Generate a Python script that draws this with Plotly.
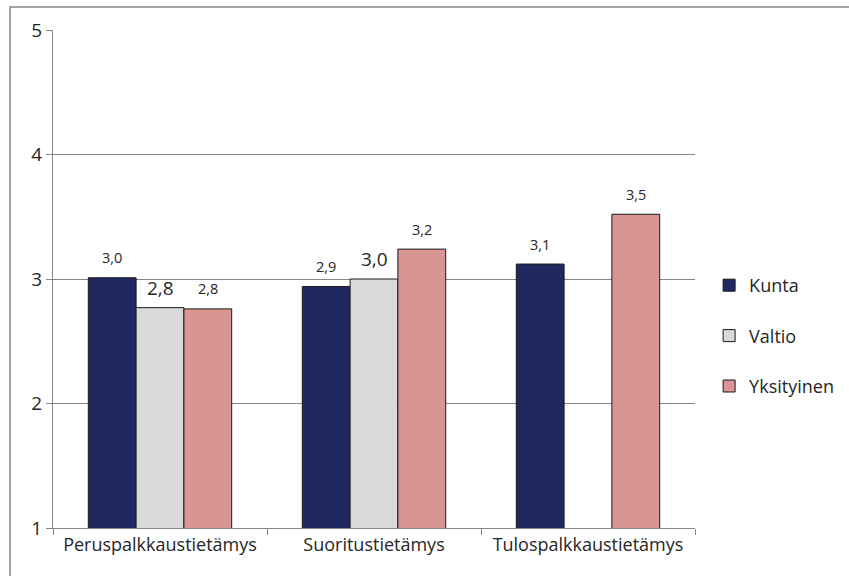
import plotly.graph_objects as go

categories = ["Peruspalkkaustietämys", "Suoritustietämys", "Tulospalkkaustietämys"]
kunta = [3.01, 2.94, 3.12]
valtio = [2.77, 3.00, None]
yksityinen = [2.76, 3.24, 3.52]

kunta_labels = ["3,0", "2,9", "3,1"]
valtio_labels = ["2,8", "3,0", ""]
yksityinen_labels = ["2,8", "3,2", "3,5"]

y_ticks = [1, 2, 3, 4, 5]

font_family = "Open Sans, Noto Sans, sans-serif"
text_color = "#262626"
axis_gray = "#878787"

# name, values, labels, fill colour, label font size, slot offset within a group
series = [
    ("Kunta", kunta, kunta_labels, "#1f285f", 14.5, -1),
    ("Valtio", valtio, valtio_labels, "#d9d9d9", 19, 0),
    ("Yksityinen", yksityinen, yksityinen_labels, "#d99594", 14.5, 1),
]

width, height = 849, 576
margin = dict(l=53, r=154, t=30, b=48, autoexpand=False)
bargap = 0.33

plot_w = width - margin["l"] - margin["r"]
plot_h = height - margin["t"] - margin["b"]
slot_px = plot_w / len(categories) * (1 - bargap) / len(series)

fig = go.Figure()
annotations = []
for name, vals, labels, color, fsize, slot in series:
    fig.add_trace(go.Bar(
        name=name,
        legendgroup=name,
        x=categories,
        y=vals,
        marker=dict(color=color, line=dict(color="#1a1a1a", width=1)),
    ))
    for cat, v, lab in zip(categories, vals, labels):
        if v is None or not lab:
            continue
        annotations.append(dict(
            x=cat, y=v, xref="x", yref="y",
            text=lab, showarrow=False,
            xanchor="center", yanchor="middle",
            xshift=slot * slot_px, yshift=20,
            font=dict(size=fsize, color=text_color, family=font_family),
        ))

fig.update_layout(
    width=width,
    height=height,
    barmode="group",
    bargap=bargap,
    bargroupgap=0,
    paper_bgcolor="white",
    plot_bgcolor="white",
    margin=margin,
    font=dict(family=font_family, color=text_color),
    legend=dict(
        x=1.022, y=(height - margin["b"] - 336) / plot_h,
        xanchor="left", yanchor="middle",
        font=dict(size=18, color=text_color),
        tracegroupgap=24,
        traceorder="grouped",
        itemwidth=30,
    ),
    showlegend=True,
    annotations=annotations,
)

fig.update_yaxes(
    range=[1, 5],
    tickvals=y_ticks,
    showgrid=True,
    gridcolor=axis_gray,
    gridwidth=1,
    showline=True,
    linecolor=axis_gray,
    linewidth=1,
    ticks="outside",
    ticklen=6,
    tickcolor=axis_gray,
    tickfont=dict(size=19, color=text_color),
    zeroline=False,
)

fig.update_xaxes(
    showline=True,
    linecolor=axis_gray,
    linewidth=1,
    ticks="outside",
    tickson="boundaries",
    ticklen=6,
    tickcolor=axis_gray,
    tickfont=dict(size=18, color=text_color),
    showgrid=False,
)

# outer chart frame (top and left edges visible)
fig.add_shape(
    type="rect", xref="paper", yref="paper",
    x0=-43 / plot_w, x1=1.6, y0=-0.5, y1=1 + 23 / plot_h,
    line=dict(color=axis_gray, width=1.5), fillcolor="rgba(0,0,0,0)", layer="below",
)

fig.write_html("out.html")
